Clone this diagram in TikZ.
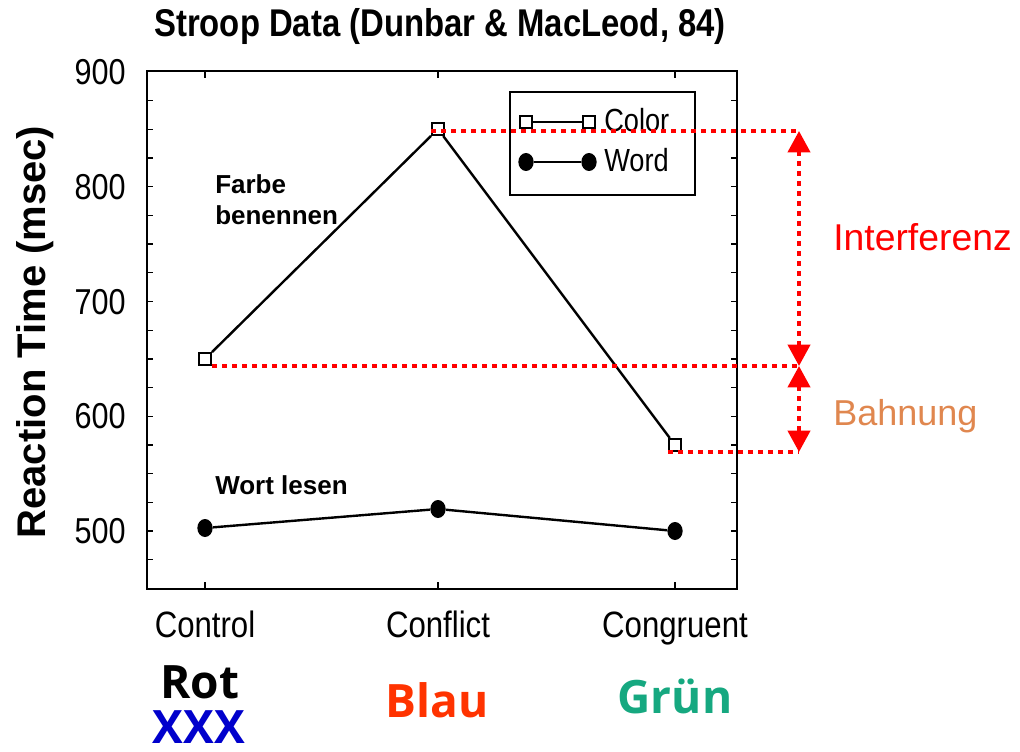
\documentclass[tikz,border=0pt]{standalone}
\usepackage{fontspec}
\setmainfont{Liberation Sans}
\newfontfamily\plotfont[FakeStretch=0.85]{Liberation Sans}
\newfontfamily\wordfont{Open Sans}
\usepackage{tikz}
\usetikzlibrary{arrows.meta,shapes.geometric}
\definecolor{blaucol}{RGB}{255,51,0}
\definecolor{gruencol}{RGB}{22,168,128}
\definecolor{xxxcol}{RGB}{0,0,204}
\definecolor{bahncol}{RGB}{224,135,79}
\tikzstyle{sqpoint}=[rectangle,draw,fill=white,line width=1.5pt,minimum size=9pt,inner sep=0pt]
\tikzstyle{dotpoint}=[ellipse,fill=black,minimum width=11.5pt,minimum height=13.5pt,inner sep=0pt]
\tikzstyle{curve}=[draw,line width=1.8pt]
\tikzstyle{guide}=[draw=red,line width=3pt,dash pattern=on 3.5pt off 4pt]
\tikzstyle{guidearrow}=[guide,{Triangle[length=16pt,width=16.5pt]}-{Triangle[length=16pt,width=16.5pt]}]
\tikzstyle{ticklabel}=[anchor=base east,inner sep=0pt,font=\plotfont\fontsize{27}{30}\selectfont]
\tikzstyle{catlabel}=[anchor=base,inner sep=0pt,font=\plotfont\fontsize{27.5}{30}\selectfont]
\tikzstyle{note}=[anchor=base west,inner sep=0pt,font=\bfseries\fontsize{19.5}{22.5}\selectfont]
\tikzstyle{colorword}=[anchor=base,inner sep=0pt,font=\wordfont\bfseries\fontsize{34.5}{36}\selectfont]

\begin{document}
\begin{tikzpicture}[x=0.75pt,y=-0.75pt]
  \useasboundingbox (0,0) rectangle (1020,752);

  \node (title) at (440,27) {\plotfont\bfseries\fontsize{29}{30}\selectfont Stroop Data (Dunbar \& MacLeod, 84)};
  \node[rotate=90,font=\bfseries\fontsize{30}{32}\selectfont] (ytitle) at (35,332) {Reaction Time (msec)};

  % frame
  \draw[line width=1.8pt] (147,71) rectangle (737,589);
  \draw[line width=1pt] (147,100.7) -- (153,100.7) (737,100.7) -- (731,100.7);
  \draw[line width=1pt] (147,129.4) -- (153,129.4) (737,129.4) -- (731,129.4);
  \draw[line width=1pt] (147,158.1) -- (153,158.1) (737,158.1) -- (731,158.1);
  \draw[line width=1pt] (147,186.8) -- (153,186.8) (737,186.8) -- (731,186.8);
  \draw[line width=1pt] (147,215.4) -- (153,215.4) (737,215.4) -- (731,215.4);
  \draw[line width=1pt] (147,244.1) -- (153,244.1) (737,244.1) -- (731,244.1);
  \draw[line width=1pt] (147,272.8) -- (153,272.8) (737,272.8) -- (731,272.8);
  \draw[line width=1pt] (147,301.5) -- (153,301.5) (737,301.5) -- (731,301.5);
  \draw[line width=1pt] (147,330.2) -- (153,330.2) (737,330.2) -- (731,330.2);
  \draw[line width=1pt] (147,358.9) -- (153,358.9) (737,358.9) -- (731,358.9);
  \draw[line width=1pt] (147,387.6) -- (153,387.6) (737,387.6) -- (731,387.6);
  \draw[line width=1pt] (147,416.3) -- (153,416.3) (737,416.3) -- (731,416.3);
  \draw[line width=1pt] (147,444.9) -- (153,444.9) (737,444.9) -- (731,444.9);
  \draw[line width=1pt] (147,473.6) -- (153,473.6) (737,473.6) -- (731,473.6);
  \draw[line width=1pt] (147,502.3) -- (153,502.3) (737,502.3) -- (731,502.3);
  \draw[line width=1pt] (147,531.0) -- (153,531.0) (737,531.0) -- (731,531.0);
  \draw[line width=1pt] (147,559.7) -- (153,559.7) (737,559.7) -- (731,559.7);
  \draw[line width=1pt] (205,71) -- (205,78) (205,589) -- (205,582);
  \draw[line width=1pt] (438,71) -- (438,78) (438,589) -- (438,582);
  \draw[line width=1pt] (675,71) -- (675,78) (675,589) -- (675,582);

  \node[ticklabel] (l900) at (126,84.5) {900};
  \node[ticklabel] (l800) at (126,199.2) {800};
  \node[ticklabel] (l700) at (126,314) {700};
  \node[ticklabel] (l600) at (126,428.8) {600};
  \node[ticklabel] (l500) at (126,543.5) {500};
  \node[catlabel] (control) at (205,637) {Control};
  \node[catlabel] (conflict) at (438,637) {Conflict};
  \node[catlabel] (congruent) at (675,637) {Congruent};

  % data
  \node[sqpoint] (c1) at (205,359) {};
  \node[sqpoint] (c2) at (438,129) {};
  \node[sqpoint] (c3) at (675,445) {};
  \node[dotpoint] (w1) at (205,528) {};
  \node[dotpoint] (w2) at (438,509) {};
  \node[dotpoint] (w3) at (675,531) {};
  \draw[curve] (c1) -- (c2) -- (c3);
  \draw[curve] (w1) -- (w2) -- (w3);

  % legend
  \draw[line width=1.8pt] (510,92) rectangle (695,195);
  \node[sqpoint] (lc1) at (526,122) {};
  \node[sqpoint] (lc2) at (589,122) {};
  \node[dotpoint] (lw1) at (526,162) {};
  \node[dotpoint] (lw2) at (589,162) {};
  \draw[curve,line width=1.2pt] (lc1) -- (lc2);
  \draw[curve,line width=1.2pt] (lw1) -- (lw2);
  \node[anchor=base west,inner sep=0pt,font=\plotfont\fontsize{24}{25}\selectfont] (colorkey) at (604,132) {Color};
  \node[anchor=base west,inner sep=0pt,font=\plotfont\fontsize{24}{25}\selectfont] (wordkey) at (604,172) {Word};

  \node[note] (farbe) at (215,194) {Farbe};
  \node[note] (benennen) at (215,224) {benennen};
  \node[note] (wort) at (215,494) {Wort lesen};

  % interference and facilitation
  \coordinate (itop) at (799,131);
  \coordinate (imid) at (799,366);
  \coordinate (ibot) at (799,452);
  \draw[guide] (c2.west |- itop) -- (itop);
  \draw[guide] (c1.east |- imid) -- (imid);
  \draw[guide] (c3.west |- ibot) -- (ibot);
  \draw[guidearrow] (itop) -- (imid);
  \draw[guidearrow] (imid) -- (ibot);
  \node[anchor=base west,inner sep=0pt,text=red,font=\fontsize{28}{30}\selectfont] (interferenz) at (833,251) {Interferenz};
  \node[anchor=base west,inner sep=0pt,text=bahncol,font=\fontsize{27}{30}\selectfont] (bahnung) at (833,425) {Bahnung};

  \node[colorword] (rot) at (200,698) {Rot};
  \node[colorword,text=xxxcol] (xxx) at (199,743) {XXX};
  \node[colorword,text=blaucol] (blau) at (437,717) {Blau};
  \node[colorword,text=gruencol] (gruen) at (675,713) {Grün};
\end{tikzpicture}
\end{document}
